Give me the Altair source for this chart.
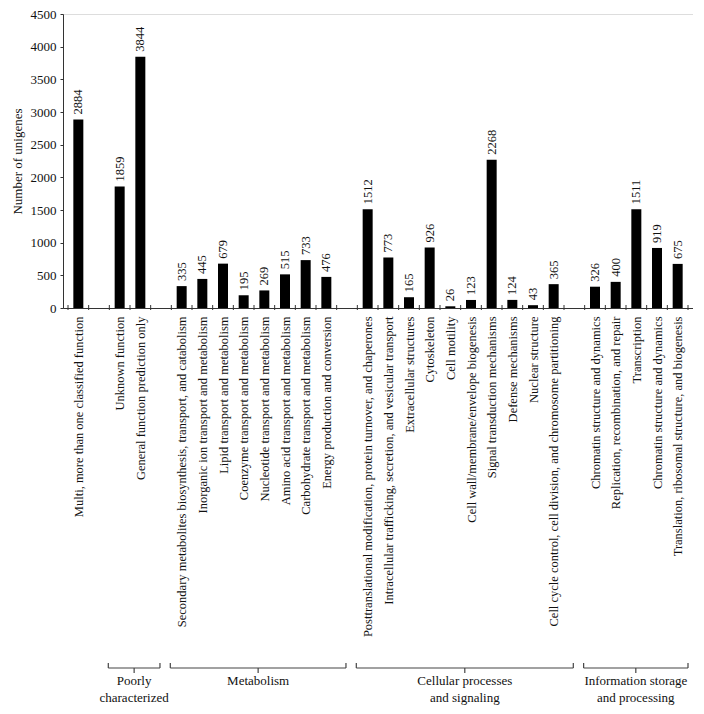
import json
import altair as alt
import pandas as pd

# ---- data ----
categories = [
    "Multi, more than one classified function",
    "Unknown function",
    "General function prediction only",
    "Secondary metabolites biosynthesis, transport, and catabolism",
    "Inorganic ion transport and metabolism",
    "Lipid transport and metabolism",
    "Coenzyme transport and metabolism",
    "Nucleotide transport and metabolism",
    "Amino acid transport and metabolism",
    "Carbohydrate transport and metabolism",
    "Energy production and conversion",
    "Posttranslational modification, protein turnover, and chaperones",
    "Intracellular trafficking, secretion, and vesicular transport",
    "Extracellular structures",
    "Cytoskeleton",
    "Cell motility",
    "Cell wall/membrane/envelope biogenesis",
    "Signal transduction mechanisms",
    "Defense mechanisms",
    "Nuclear structure",
    "Cell cycle control, cell division, and chromosome partitioning",
    "Chromatin structure and dynamics",
    "Replication, recombination, and repair",
    "Transcription",
    "Chromatin structure and dynamics",
    "Translation, ribosomal structure, and biogenesis",
]
values = [2884, 1859, 3844, 335, 445, 679, 195, 269, 515, 733, 476,
          1512, 773, 165, 926, 26, 123, 2268, 124, 43, 365,
          326, 400, 1511, 919, 675]
group_of = (["Multi"] + ["Poorly"] * 2 + ["Metabolism"] * 8 +
            ["Cellular"] * 10 + ["Info"] * 5)
group_keys = ["Poorly", "Metabolism", "Cellular", "Info"]
group_titles = ["Poorly\ncharacterized", "Metabolism",
                "Cellular processes\nand signaling",
                "Information storage\nand processing"]

# ---- build slot positions (one blank slot between groups) ----
slots = []
s = 0
prev = None
for g in group_of:
    if prev is not None and g != prev:
        s += 1
    s += 1
    slots.append(s)
    prev = g
n_slots = slots[-1]

bars = pd.DataFrame({"slot": slots, "value": values, "name": categories})

label_list = [""] * (n_slots + 1)
for sl, nm in zip(slots, categories):
    label_list[sl] = nm
label_expr = json.dumps(label_list) + "[datum.value]"

grp_rows = []
for k, t in zip(group_keys, group_titles):
    ss = [sl for sl, g in zip(slots, group_of) if g == k]
    x1 = min(ss) - 0.55
    x2 = min(max(ss) + 0.95, n_slots + 0.5)
    grp_rows.append({"x1": x1, "x2": x2, "mid": (x1 + x2) / 2, "title": t})
groups = pd.DataFrame(grp_rows)

ticks = pd.DataFrame({"b": [i + 0.5 for i in range(n_slots + 1)]})

W, H = 630, 294
FONT = "Liberation Serif"
xscale = alt.Scale(domain=[0.5, n_slots + 0.5], nice=False, zero=False)
yscale = alt.Scale(domain=[0, 4500], nice=False)

X_AXIS = alt.Axis(values=list(range(1, n_slots + 1)), labelExpr=label_expr,
                  labelAngle=-90, ticks=False, grid=False, title=None,
                  labelOverlap=False, labelFlush=False, labelBound=False,
                  labelLimit=500)
Y_AXIS = alt.Axis(values=list(range(0, 4501, 500)), grid=False, format="d",
                  title="Number of unigenes", labelFlush=False, labelOverlap=False)


def X(field):
    return alt.X(field, type="quantitative", scale=xscale, axis=X_AXIS)


bar = alt.Chart(bars).mark_bar(size=10, color="black").encode(
    x=X("slot"),
    y=alt.Y("value:Q", scale=yscale, axis=Y_AXIS),
)

txt = alt.Chart(bars).mark_text(angle=270, align="left", baseline="middle", dx=5,
                                font=FONT, fontSize=12.5, color="#111").encode(
    x=X("slot"),
    y=alt.Y("value:Q", scale=yscale, axis=Y_AXIS),
    text=alt.Text("value:Q", format="d"),
)

tk_in = alt.Chart(ticks).mark_rule(color="#333", strokeWidth=1).encode(
    x=X("b"), y=alt.value(H - 3), y2=alt.value(H + 2),
)

Y0 = 654
rule_kw = dict(color="#444", strokeWidth=1.2)
br_line = alt.Chart(groups).mark_rule(**rule_kw).encode(
    x=X("x1"), x2="x2:Q", y=alt.value(Y0))
br_l = alt.Chart(groups).mark_rule(**rule_kw).encode(
    x=X("x1"), y=alt.value(Y0 - 5), y2=alt.value(Y0))
br_r = alt.Chart(groups).mark_rule(**rule_kw).encode(
    x=X("x2"), y=alt.value(Y0 - 5), y2=alt.value(Y0))
br_m = alt.Chart(groups).mark_rule(**rule_kw).encode(
    x=X("mid"), y=alt.value(Y0), y2=alt.value(Y0 + 5))
br_t = alt.Chart(groups).mark_text(font=FONT, fontSize=13, color="#111",
                                   baseline="top", lineBreak="\n",
                                   lineHeight=17).encode(
    x=X("mid"), y=alt.value(Y0 + 7), text="title:N")

chart = alt.layer(bar, txt, tk_in, br_line, br_l, br_r, br_m, br_t).properties(
    width=W, height=H,
    padding={"left": 3, "top": 0, "right": 0, "bottom": 0},
).configure_view(stroke=None).configure(background="white").configure_axis(
    labelFont=FONT, labelColor="#111", domainColor="#333", tickColor="#333",
    titleFont=FONT, titleColor="#111", titleFontWeight="normal",
).configure_axisX(
    labelFontSize=12.5, labelPadding=8,
).configure_axisY(
    labelFontSize=13, titleFontSize=13, titlePadding=6, tickSize=3, labelPadding=4,
)

chart.save("out.html", embed_options={"renderer": "svg", "actions": False})
